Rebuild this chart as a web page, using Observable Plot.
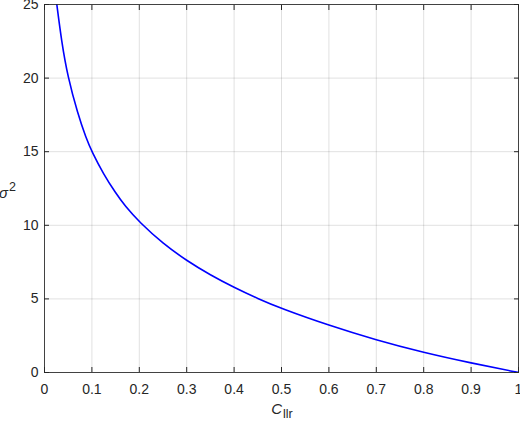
<!DOCTYPE html>
<html>
<head>
<meta charset="utf-8">
<script src="https://cdn.jsdelivr.net/npm/d3@7"></script>
<script src="https://cdn.jsdelivr.net/npm/@observablehq/plot@0.6"></script>
<style>
  html, body { margin: 0; padding: 0; background: #fff; }
  #chart svg { display: block; }
</style>
</head>
<body>
<div id="chart"></div>
<script>
const cllr =   [0.026, 0.036, 0.049, 0.070, 0.088, 0.1, 0.125, 0.15, 0.17, 0.2, 0.25, 0.3, 0.35, 0.4, 0.45, 0.5, 0.6, 0.7, 0.8, 0.9, 1.0];
const sigma2 = [25, 22.5, 20.1, 17.6, 15.9, 15.0, 13.45, 12.2, 11.3, 10.22, 8.75, 7.6, 6.62, 5.78, 5.02, 4.34, 3.2, 2.2, 1.35, 0.64, 0];
const xTicks = [0, 0.1, 0.2, 0.3, 0.4, 0.5, 0.6, 0.7, 0.8, 0.9, 1];
const yTicks = [0, 5, 10, 15, 20, 25];

const data = cllr.map((c, i) => ({c, s: sigma2[i]}));
const axisColor = "#262626";
const font = "'Liberation Sans', Arial, Helvetica, sans-serif";

const chart = Plot.plot({
  width: 520,
  height: 426,
  marginLeft: 44,
  marginRight: 2,
  marginTop: 4,
  marginBottom: 54,
  style: {fontFamily: font, fontSize: "14px", color: axisColor, background: "#fff"},
  x: {domain: [0, 1]},
  y: {domain: [0, 25]},
  marks: [
    Plot.gridX(xTicks, {stroke: "#000", strokeOpacity: 0.12}),
    Plot.gridY(yTicks, {stroke: "#000", strokeOpacity: 0.12}),
    Plot.line(data, {x: "c", y: "s", stroke: "#0000ff", strokeWidth: 1.6, curve: "basis", clip: true}),
    Plot.frame({stroke: axisColor, strokeWidth: 1, strokeOpacity: 0.85}),
    Plot.axisX(xTicks, {anchor: "bottom", tickSize: 0, tickPadding: 12, label: null, tickFormat: d3.format("~g"), fill: axisColor}),
    Plot.axisY(yTicks, {anchor: "left", tickSize: 0, tickPadding: 6, label: null, fill: axisColor}),
    Plot.axisX(xTicks, {anchor: "bottom", tickSize: -5, text: null, label: null, stroke: axisColor}),
    Plot.axisX(xTicks, {anchor: "top", tickSize: -5, text: null, label: null, stroke: axisColor}),
    Plot.axisY(yTicks, {anchor: "left", tickSize: -5, text: null, label: null, stroke: axisColor}),
    Plot.axisY(yTicks, {anchor: "right", tickSize: -5, text: null, label: null, stroke: axisColor})
  ]
});

document.getElementById("chart").appendChild(chart);

// Axis titles with sub/superscripts
const svg = d3.select(chart);
const xs = chart.scale("x"), ys = chart.scale("y");
const xMid = (xs.range[0] + xs.range[1]) / 2;
const yMid = (ys.range[0] + ys.range[1]) / 2;

const xl = svg.append("text")
  .attr("x", xMid + 1).attr("y", 414)
  .attr("text-anchor", "middle")
  .attr("fill", axisColor)
  .style("font-family", font)
  .style("font-size", "15px");
xl.append("tspan").attr("font-style", "italic").text("C");
xl.append("tspan").attr("dy", 4).attr("dx", 1).style("font-size", "12.5px").text("llr");

const yl = svg.append("text")
  .attr("x", -1).attr("y", yMid + 10)
  .attr("text-anchor", "start")
  .attr("fill", axisColor)
  .style("font-family", font)
  .style("font-size", "15px");
yl.append("tspan").attr("font-style", "italic").text("σ");
yl.append("tspan").attr("dy", -7).attr("dx", 1).style("font-size", "12.5px").text("2");
</script>
</body>
</html>
